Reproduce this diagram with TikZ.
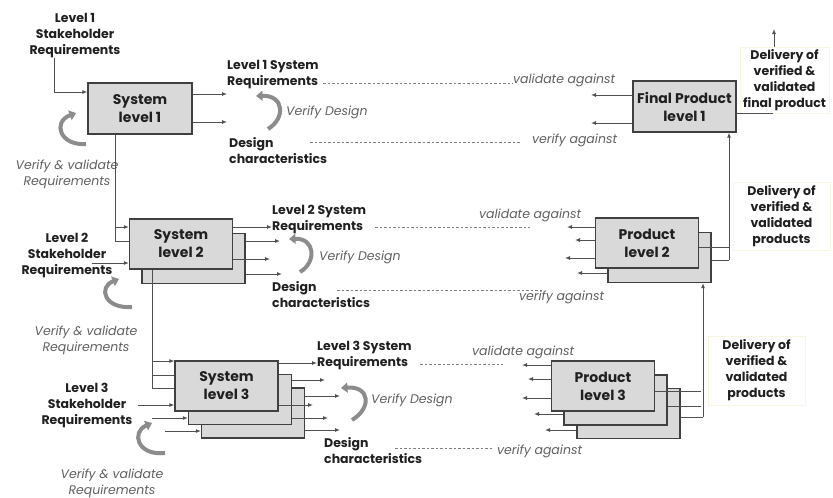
\documentclass[tikz,border=0pt]{standalone}
\usepackage{fontspec}
\setmainfont{Poppins}
\usetikzlibrary{arrows.meta}
\definecolor{boxfill}{HTML}{D9D9D9}
\definecolor{boxline}{HTML}{404040}
\definecolor{linec}{HTML}{505050}
\definecolor{itc}{HTML}{606060}
\definecolor{txt}{HTML}{202020}
\definecolor{curv}{HTML}{8C8C8C}
\definecolor{delivline}{HTML}{F8F6E2}
\begin{document}
\begin{tikzpicture}[x=1pt,y=-1pt,
 blk/.style={draw=boxline, fill=boxfill, line width=1.2pt, inner sep=0pt, minimum width=103pt, minimum height=50pt, font=\fontsize{14}{18}\selectfont\bfseries, text=txt, align=center},
 lbl/.style={font=\fontsize{12.5}{16}\selectfont\bfseries, text=txt, inner sep=0pt},
 itl/.style={font=\fontsize{12.5}{16}\selectfont\itshape, text=itc, inner sep=0pt},
 arr/.style={draw=linec, line width=1pt, -{Latex[length=5pt,width=4pt]}},
 ln/.style={draw=linec, line width=1pt},
 dots/.style={draw=gray, line width=0.6pt, dash pattern=on 2.5pt off 2pt},
 curl/.style={draw=curv, line width=4pt, -{Triangle[length=6.5pt,width=10pt]}},
 deliv/.style={draw=delivline, fill=white, line width=0.8pt, inner sep=0pt, font=\fontsize{12.5}{16}\selectfont\bfseries, text=txt, align=center}
]
\useasboundingbox[fill=white] (0,0) rectangle (833,498);

% ---------------- Level 1 ----------------
\node[blk, minimum width=104pt, minimum height=51pt] (s1) at (140,108.5) {System\\level 1};
\node[lbl, align=center] (sh1) at (75,36) {Level 1\\Stakeholder\\Requirements};
\coordinate (sh1c) at (54,92);
\draw[ln] (sh1.south -| sh1c) -- (sh1c);
\draw[arr] (sh1c) -- (s1.west |- sh1c);
\node[lbl, align=left, anchor=west] (r1) at (227,75) {Level 1 System\\Requirements};
\node[lbl, align=left, anchor=west] (d1) at (229,151) {Design\\characteristics};
\draw[arr] (s1.east |- 0,94) -- (r1.west |- 0,94);
\draw[arr] (s1.east |- 0,122) -- (227,122);
\draw[curl] (268,129) .. controls (286,118) and (284,95) .. (256,96);
\node[itl, anchor=west] (vd1) at (286,112) {Verify Design};
\draw[curl] (86,144) .. controls (60,146) and (52,122) .. (76,113);
\node[itl, align=center] (vv1) at (67,174) {Verify \& validate\\Requirements};

% ---------------- Level 2 ----------------
\node[blk] (s2b) at (193.5,258.5) {};
\node[blk] (s2) at (181,244) {System\\level 2};
\coordinate (c12) at (115,241);
\draw[ln] (s1.south -| c12) -- (c12) -- (s2.west |- c12);
\draw[arr] (s1.south -| c12) ++(0,0) |- (s2.west |- 0,227);
\node[lbl, align=center] (sh2) at (67,255) {Level 2\\Stakeholder\\Requirements};
\draw[arr] (92,263) -- (s2.west |- 0,263);
\node[lbl, align=left, anchor=west] (r2) at (272,219) {Level 2 System\\Requirements};
\node[lbl, align=left, anchor=west] (d2) at (272,295) {Design\\characteristics};
\draw[arr] (s2.east |- 0,227) -- (r2.west |- 0,227);
\draw[arr] (s2b.east |- 0,241) -- (280,241);
\draw[arr] (s2.east |- 0,259) -- (270,259);
\draw[arr] (s2b.east |- 0,274) -- (282,274);
\draw[curl] (300,272) .. controls (317,262) and (315,238) .. (289,239);
\node[itl, anchor=west] (vd2) at (319,257) {Verify Design};
\draw[curl] (132,307) .. controls (104,309) and (98,287) .. (119,279);
\node[itl, align=center] (vv2) at (86,340) {Verify \& validate\\Requirements};

% ---------------- Level 3 ----------------
\node[blk] (s3c) at (253,413) {};
\node[blk] (s3b) at (240,399.5) {};
\node[blk] (s3) at (226.5,386) {System\\level 3};
\coordinate (c23) at (152,388);
\draw[ln] (s2.south -| c23) -- (c23) -- (s3.west |- c23);
\draw[ln] (152,375) -- (s3.west |- 0,375);
\draw[arr] (152,361) -- (s3.west |- 0,361);
\node[lbl, align=center] (sh3) at (87,405) {Level 3\\Stakeholder\\Requirements};
\draw[arr] (138,405) -- (s3.west |- 0,405);
\draw[arr] (152,418) -- (s3b.west |- 0,418);
\draw[arr] (165,431) -- (s3c.west |- 0,431);
\node[lbl, align=left, anchor=west] (r3) at (317,355) {Level 3 System\\Requirements};
\node[lbl, align=left, anchor=west] (d3) at (324,451) {Design\\characteristics};
\draw[arr] (s3.east |- 0,363) -- (r3.west |- 0,363);
\draw[arr] (s3b.east |- 0,380) -- (325,380);
\draw[arr] (s3c.east |- 0,396) -- (340,396);
\draw[arr] (s3.east |- 0,405) -- (313,405);
\draw[arr] (s3b.east |- 0,418) -- (328,418);
\draw[arr] (s3c.east |- 0,430) -- (340,430);
\draw[curl] (352,420) .. controls (372,408) and (370,386) .. (341,388);
\node[itl, anchor=west] (vd3) at (371,400) {Verify Design};
\draw[curl] (165,453) .. controls (137,456) and (131,432) .. (152,423);
\node[itl, align=center] (vv3) at (112,483.5) {Verify \& validate\\Requirements};

% ---------------- Right side, level 1 ----------------
\node[blk, minimum width=103pt, minimum height=51pt] (p1) at (684.5,106.5) {Final Product\\level 1};
\draw[arr] (p1.west |- 0,95) -- (591,95);
\draw[arr] (p1.west |- 0,123) -- (591,123);
\node[itl, anchor=west] (va1) at (513,80) {validate against};
\node[itl, anchor=west] (ve1) at (532,140) {verify against};
\draw[dots] (323,83) -- (va1.west |- 0,83);
\draw[dots] (310,142) -- (520,142);
\node[deliv, minimum width=89pt, minimum height=66pt] (dv1) at (784.5,80) {Delivery of\\verified \&\\validated\\final product};
\coordinate (up1) at (774,29);
\draw[arr] (dv1.north -| up1) -- (up1);
\draw[ln] (p1.east |- 0,113) -- (773,113);

% ---------------- Right side, level 2 ----------------
\node[blk] (p2b) at (659.5,257.5) {};
\node[blk] (p2) at (647,243) {Product\\level 2};
\draw[arr] (p2.west |- 0,227) -- (567,227);
\draw[arr] (p2.west |- 0,240) -- (575,240);
\draw[arr] (p2.west |- 0,258) -- (565,258);
\draw[arr] (p2b.west |- 0,273) -- (577,273);
\node[itl, anchor=west] (va2) at (479,215) {validate against};
\node[itl, anchor=west] (ve2) at (519,297) {verify against};
\draw[dots] (375,227) -- (530,227);
\draw[dots] (337,290) -- (543,290);
\coordinate (c2a) at (729,260);
\draw[ln] (p2.east |- 0,247) -- (c2a |- 0,247);
\draw[ln] (p2b.east |- c2a) -- (c2a);
\draw[arr] (c2a) -- (p1.south -| c2a);
\node[deliv, minimum width=97pt, minimum height=68pt] (dv2) at (781.5,216) {Delivery of\\verified \&\\validated\\products};

% ---------------- Right side, level 3 ----------------
\node[blk] (p3c) at (628.5,413.5) {};
\node[blk] (p3b) at (615.5,400) {};
\node[blk] (p3) at (603,386) {Product\\level 3};
\draw[arr] (p3.west |- 0,365) -- (522,365);
\draw[arr] (p3.west |- 0,379) -- (528,379);
\draw[arr] (p3.west |- 0,398) -- (522,398);
\draw[arr] (p3b.west |- 0,414) -- (534,414);
\draw[arr] (p3c.west |- 0,430) -- (545,430);
\node[itl, anchor=west] (va3) at (472,352) {validate against};
\node[itl, anchor=west] (ve3) at (497,451) {verify against};
\draw[dots] (420,364) -- (503,364);
\draw[dots] (395,448) -- (492,448);
\coordinate (c3a) at (703,417);
\draw[ln] (p3.east |- 0,391) -- (701,391);
\draw[ln] (p3b.east |- 0,406) -- (701,406);
\draw[ln] (p3c.east |- c3a) -- (c3a);
\draw[arr] (c3a) -- (p2b.south -| c3a);
\node[deliv, minimum width=97pt, minimum height=69pt] (dv3) at (756.5,370.5) {Delivery of\\verified \&\\validated\\products};
\end{tikzpicture}
\end{document}
